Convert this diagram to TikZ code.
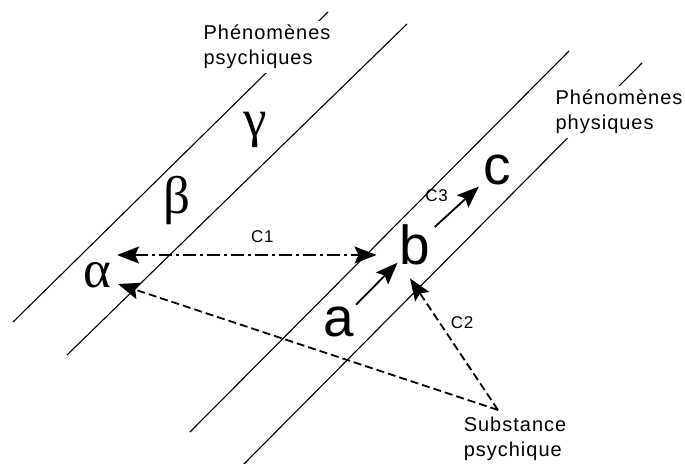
\documentclass[tikz,border=0pt]{standalone}
\usepackage{fontspec}
\setmainfont{Liberation Sans}
\newfontfamily\greekfont{Liberation Serif}
\newfontfamily\labelfont[LetterSpace=5]{Liberation Sans}
\usetikzlibrary{arrows.meta,calc,positioning}

\begin{document}
\begin{tikzpicture}[
  x=1pt, y=-1pt,
  plane/.style={line width=1.1pt},
  greek/.style={inner sep=2pt, font=\fontsize{53}{53}\greekfont},
  letter/.style={inner sep=2pt, font=\fontsize{55}{55}\selectfont},
  caption/.style={align=left, fill=white, inner sep=4pt, font=\fontsize{20}{25}\labelfont},
  lbl/.style={inner sep=2pt, font=\fontsize{17}{17}\labelfont},
  arr/.style={-{Stealth[length=22pt,width=17pt,inset=4pt]}, line width=1.8pt},
  darr/.style={{Stealth[length=22pt,width=17pt,inset=4pt]}-{Stealth[length=22pt,width=17pt,inset=4pt]}, line width=1.8pt},
  subst/.style={dash pattern=on 8pt off 4pt},
  link/.style={dash pattern=on 13pt off 4pt on 3pt off 4pt}
]
\useasboundingbox (0,0) rectangle (685,463);
\draw[plane] (13,322) -- (328,12);
\draw[plane] (67,355) -- (407,24);
\draw[plane] (190,432) -- (569,51);
\draw[plane] (243,465) -- (642,63);
\node[caption] (psy) at (267,47) {Phénomènes\\psychiques};
\node[caption] (phy) at (619,112) {Phénomènes\\physiques};
\node[caption] (sub) at (515,439) {Substance\\psychique};
\node[greek] (alpha) at (97,275) {α};
\node[greek] (beta) at (177,200) {β};
\node[greek] (gamma) at (255,130) {γ};
\node[letter] (a) at (339,322) {a};
\node[letter] (b) at (415,245) {b};
\node[letter] (c) at (497,170) {c};
\coordinate (apex) at (498,410);
\draw[arr] (a) -- (b);
\draw[arr, shorten <=3pt, shorten >=3pt] (b) -- node[lbl, above left=2pt and 6pt] {C3} (c);
\draw[darr, link] ([xshift=4pt,yshift=20pt]alpha.east) -- node[lbl, pos=0.56, above=9pt] {C1} ([xshift=-21pt,yshift=-10pt]b.west);
\draw[arr, subst] (apex) -- ([xshift=5pt,yshift=-9pt]alpha.east);
\draw[arr, subst] (apex) -- node[lbl, pos=0.66, right=8pt] {C2} ([xshift=-5pt,yshift=-11pt]b.south);
\end{tikzpicture}
\end{document}
